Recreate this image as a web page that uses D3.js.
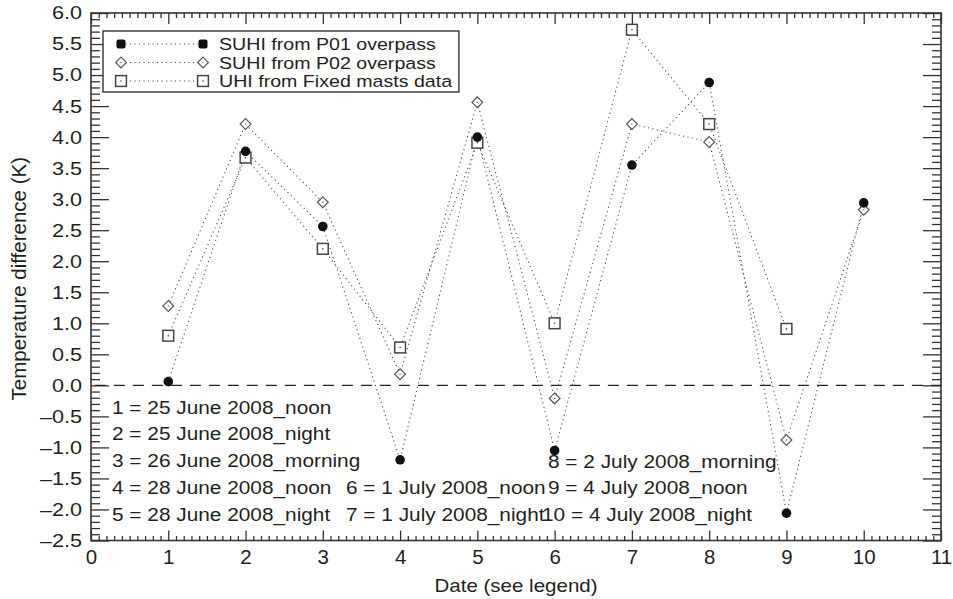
<!DOCTYPE html>
<html>
<head>
<meta charset="utf-8">
<script src="https://cdn.jsdelivr.net/npm/d3@7"></script>
<style>
  html, body { margin: 0; padding: 0; background: #fff; }
  svg { display: block; }
  text { font-family: "Liberation Sans", Arial, sans-serif; fill: #231f20; }
</style>
</head>
<body>
<svg id="chart" width="953" height="599"></svg>
<script>
// Observation dates (index numbers explained in the on-chart key)
const dates = [1, 2, 3, 4, 5, 6, 7, 8, 9, 10];
// SUHI from P01 overpass (K)
const suhiP01 = [0.06, 3.77, 2.56, -1.20, 4.00, -1.05, 3.55, 4.88, -2.06, 2.94];
// SUHI from P02 overpass (K)
const suhiP02 = [1.28, 4.21, 2.95, 0.18, 4.56, -0.21, 4.21, 3.92, -0.88, 2.83];
// UHI from fixed masts (K), no record for date 10
const uhiMasts = [0.80, 3.67, 2.20, 0.61, 3.91, 1.00, 5.73, 4.21, 0.91];

const xTicks = [0, 1, 2, 3, 4, 5, 6, 7, 8, 9, 10, 11];
const yTicks = [-2.5, -2.0, -1.5, -1.0, -0.5, 0.0, 0.5, 1.0, 1.5, 2.0, 2.5, 3.0, 3.5, 4.0, 4.5, 5.0, 5.5, 6.0];

const seriesNames = ["SUHI from P01 overpass", "SUHI from P02 overpass", "UHI from Fixed masts data"];
const dateKeyLeft = [
  "1 = 25 June 2008_noon",
  "2 = 25 June 2008_night",
  "3 = 26 June 2008_morning",
  "4 = 28 June 2008_noon",
  "5 = 28 June 2008_night"
];
const dateKeyMid = ["6 = 1 July 2008_noon", "7 = 1 July 2008_night"];
const dateKeyRight = ["8 = 2 July 2008_morning", "9 = 4 July 2008_noon", "10 = 4 July 2008_night"];

const svg = d3.select("#chart");
const plotL = 91, plotR = 941, plotT = 13, plotB = 540.5;
const ink = "#333";

const x = d3.scaleLinear().domain([0, 11]).range([plotL, plotR]);
const y = d3.scaleLinear().domain([-2.5, 6.0]).range([plotB, plotT]);

const fmt = v => (v < 0 ? "\u2013" : "") + Math.abs(v).toFixed(1);

// Text set slightly wide
function label(parent, tx, ty, str, size, sx, anchor) {
  return parent.append("text")
    .attr("transform", `translate(${tx},${ty}) scale(${sx},1)`)
    .attr("font-size", size)
    .attr("text-anchor", anchor || "start")
    .text(str);
}

// Minor tick values
const xMinor = d3.range(0, 110).map(i => i / 10).filter(v => Math.abs(v - Math.round(v)) > 1e-6);
const yMinor = d3.range(-25, 60).map(i => i / 10).filter(v => Math.abs(v * 2 - Math.round(v * 2)) > 1e-6);

function styleAxis(g) {
  g.select(".domain").remove();
  g.selectAll(".tick line").attr("stroke", ink).attr("stroke-width", 1.3);
  g.selectAll(".tick text").style("font-family", '"Liberation Sans", Arial, sans-serif').attr("fill", "#231f20");
}

// Bottom axis (inward ticks)
svg.append("g").attr("transform", `translate(0,${plotB})`)
  .call(d3.axisBottom(x).tickValues(xTicks).tickFormat(d3.format("d")).tickSizeInner(-10).tickSizeOuter(0))
  .call(styleAxis)
  .call(g => g.selectAll(".tick text").attr("font-size", 19.5).attr("y", 23.5).attr("dy", 0)
    .attr("transform", "scale(1.05,1)"));
svg.append("g").attr("transform", `translate(0,${plotB})`)
  .call(d3.axisBottom(x).tickValues(xMinor).tickFormat("").tickSizeInner(-4.5).tickSizeOuter(0))
  .call(styleAxis);

// Top axis
svg.append("g").attr("transform", `translate(0,${plotT})`)
  .call(d3.axisTop(x).tickValues(xTicks).tickFormat("").tickSizeInner(-11).tickSizeOuter(0))
  .call(styleAxis);
svg.append("g").attr("transform", `translate(0,${plotT})`)
  .call(d3.axisTop(x).tickValues(xMinor).tickFormat("").tickSizeInner(-5).tickSizeOuter(0))
  .call(styleAxis);

// Left axis
svg.append("g").attr("transform", `translate(${plotL},0)`)
  .call(d3.axisLeft(y).tickValues(yTicks).tickFormat(fmt).tickSizeInner(-18).tickSizeOuter(0))
  .call(styleAxis)
  .call(g => g.selectAll(".tick text").attr("font-size", 18.5)
    .attr("x", -9 / 1.17).attr("transform", "scale(1.17,1)"));
svg.append("g").attr("transform", `translate(${plotL},0)`)
  .call(d3.axisLeft(y).tickValues(yMinor).tickFormat("").tickSizeInner(-9).tickSizeOuter(0))
  .call(styleAxis);

// Right axis
svg.append("g").attr("transform", `translate(${plotR},0)`)
  .call(d3.axisRight(y).tickValues(yTicks).tickFormat("").tickSizeInner(-18).tickSizeOuter(0))
  .call(styleAxis);
svg.append("g").attr("transform", `translate(${plotR},0)`)
  .call(d3.axisRight(y).tickValues(yMinor).tickFormat("").tickSizeInner(-9).tickSizeOuter(0))
  .call(styleAxis);

// Frame
svg.append("rect")
  .attr("x", plotL).attr("y", plotT)
  .attr("width", plotR - plotL).attr("height", plotB - plotT)
  .attr("fill", "none").attr("stroke", ink).attr("stroke-width", 1.6);

// Zero reference line
svg.append("line")
  .attr("x1", x(0.05)).attr("x2", plotR)
  .attr("y1", y(0)).attr("y2", y(0))
  .attr("stroke", "#222").attr("stroke-width", 1.3)
  .attr("stroke-dasharray", "11,8");

// Marker drawing helpers
function drawCircle(g, cx, cy) {
  g.append("circle").attr("cx", cx).attr("cy", cy).attr("r", 4.8).attr("fill", "#111");
}
function drawDiamond(g, cx, cy) {
  const s = 5.4;
  g.append("path")
    .attr("d", `M${cx},${cy - s}L${cx + s},${cy}L${cx},${cy + s}L${cx - s},${cy}Z`)
    .attr("fill", "#fff").attr("stroke", "#555").attr("stroke-width", 1.2);
  g.append("circle").attr("cx", cx).attr("cy", cy).attr("r", 0.7).attr("fill", "#555");
}
function drawSquare(g, cx, cy) {
  const s = 5.4;
  g.append("rect")
    .attr("x", cx - s).attr("y", cy - s).attr("width", 2 * s).attr("height", 2 * s)
    .attr("fill", "#fff").attr("stroke", "#444").attr("stroke-width", 1.5);
  g.append("circle").attr("cx", cx).attr("cy", cy).attr("r", 0.8).attr("fill", "#444");
}

const series = [
  { values: uhiMasts, marker: drawSquare },
  { values: suhiP02, marker: drawDiamond },
  { values: suhiP01, marker: drawCircle }
];

const line = d3.line().x(d => x(d[0])).y(d => y(d[1]));

// Dotted connecting lines
series.forEach(s => {
  const pts = s.values.map((v, i) => [dates[i], v]);
  svg.append("path")
    .attr("d", line(pts))
    .attr("fill", "none")
    .attr("stroke", "#444")
    .attr("stroke-width", 1.1)
    .attr("stroke-dasharray", "1.1,3.4");
});

// Markers
series.forEach(s => {
  const g = svg.append("g");
  s.values.forEach((v, i) => s.marker(g, x(dates[i]), y(v)));
});

// Legend
const lg = svg.append("g");
const legendBox = lg.append("rect")
  .attr("x", 103).attr("y", 31).attr("height", 61)
  .attr("fill", "#fff").attr("stroke", ink).attr("stroke-width", 1.4);
const legendMarkers = [
  (g, cx, cy) => { g.append("rect").attr("x", cx - 4.5).attr("y", cy - 4.5).attr("width", 9).attr("height", 9).attr("rx", 2).attr("fill", "#111"); },
  drawDiamond,
  drawSquare
];
const legendWide = 1.14;
let legendTextRight = 0;
seriesNames.forEach((name, i) => {
  const cy = 44 + i * 18.5;
  lg.append("line")
    .attr("x1", 121).attr("x2", 203).attr("y1", cy).attr("y2", cy)
    .attr("stroke", "#444").attr("stroke-width", 1.1).attr("stroke-dasharray", "1.1,3.4");
  legendMarkers[i](lg, 121, cy);
  legendMarkers[i](lg, 203, cy);
  const t = label(lg, 219, cy + 6, name, 17.2, legendWide);
  const bb = t.node().getBBox();
  legendTextRight = Math.max(legendTextRight, 219 + bb.width * legendWide);
});
legendBox.attr("width", legendTextRight + 6 - 103);

// Date key
const keyFont = 18.6, keyWide = 1.12;
dateKeyLeft.forEach((t, i) => label(svg, 112, 413.5 + i * 26.8, t, keyFont, keyWide));
dateKeyMid.forEach((t, i) => label(svg, 346, 493.8 + i * 26.8, t, keyFont, keyWide));
dateKeyRight.forEach((t, i) => label(svg, i === 2 ? 542 : 548, 467.5 + i * 26.6, t, keyFont, keyWide));

// Axis titles
svg.append("text")
  .attr("transform", `translate(26,${(plotT + plotB) / 2 + 2}) rotate(-90)`)
  .attr("text-anchor", "middle")
  .attr("font-size", 20.5)
  .text("Temperature difference (K)");
label(svg, (plotL + plotR) / 2, 592, "Date (see legend)", 18, 1.14, "middle");
</script>
</body>
</html>
